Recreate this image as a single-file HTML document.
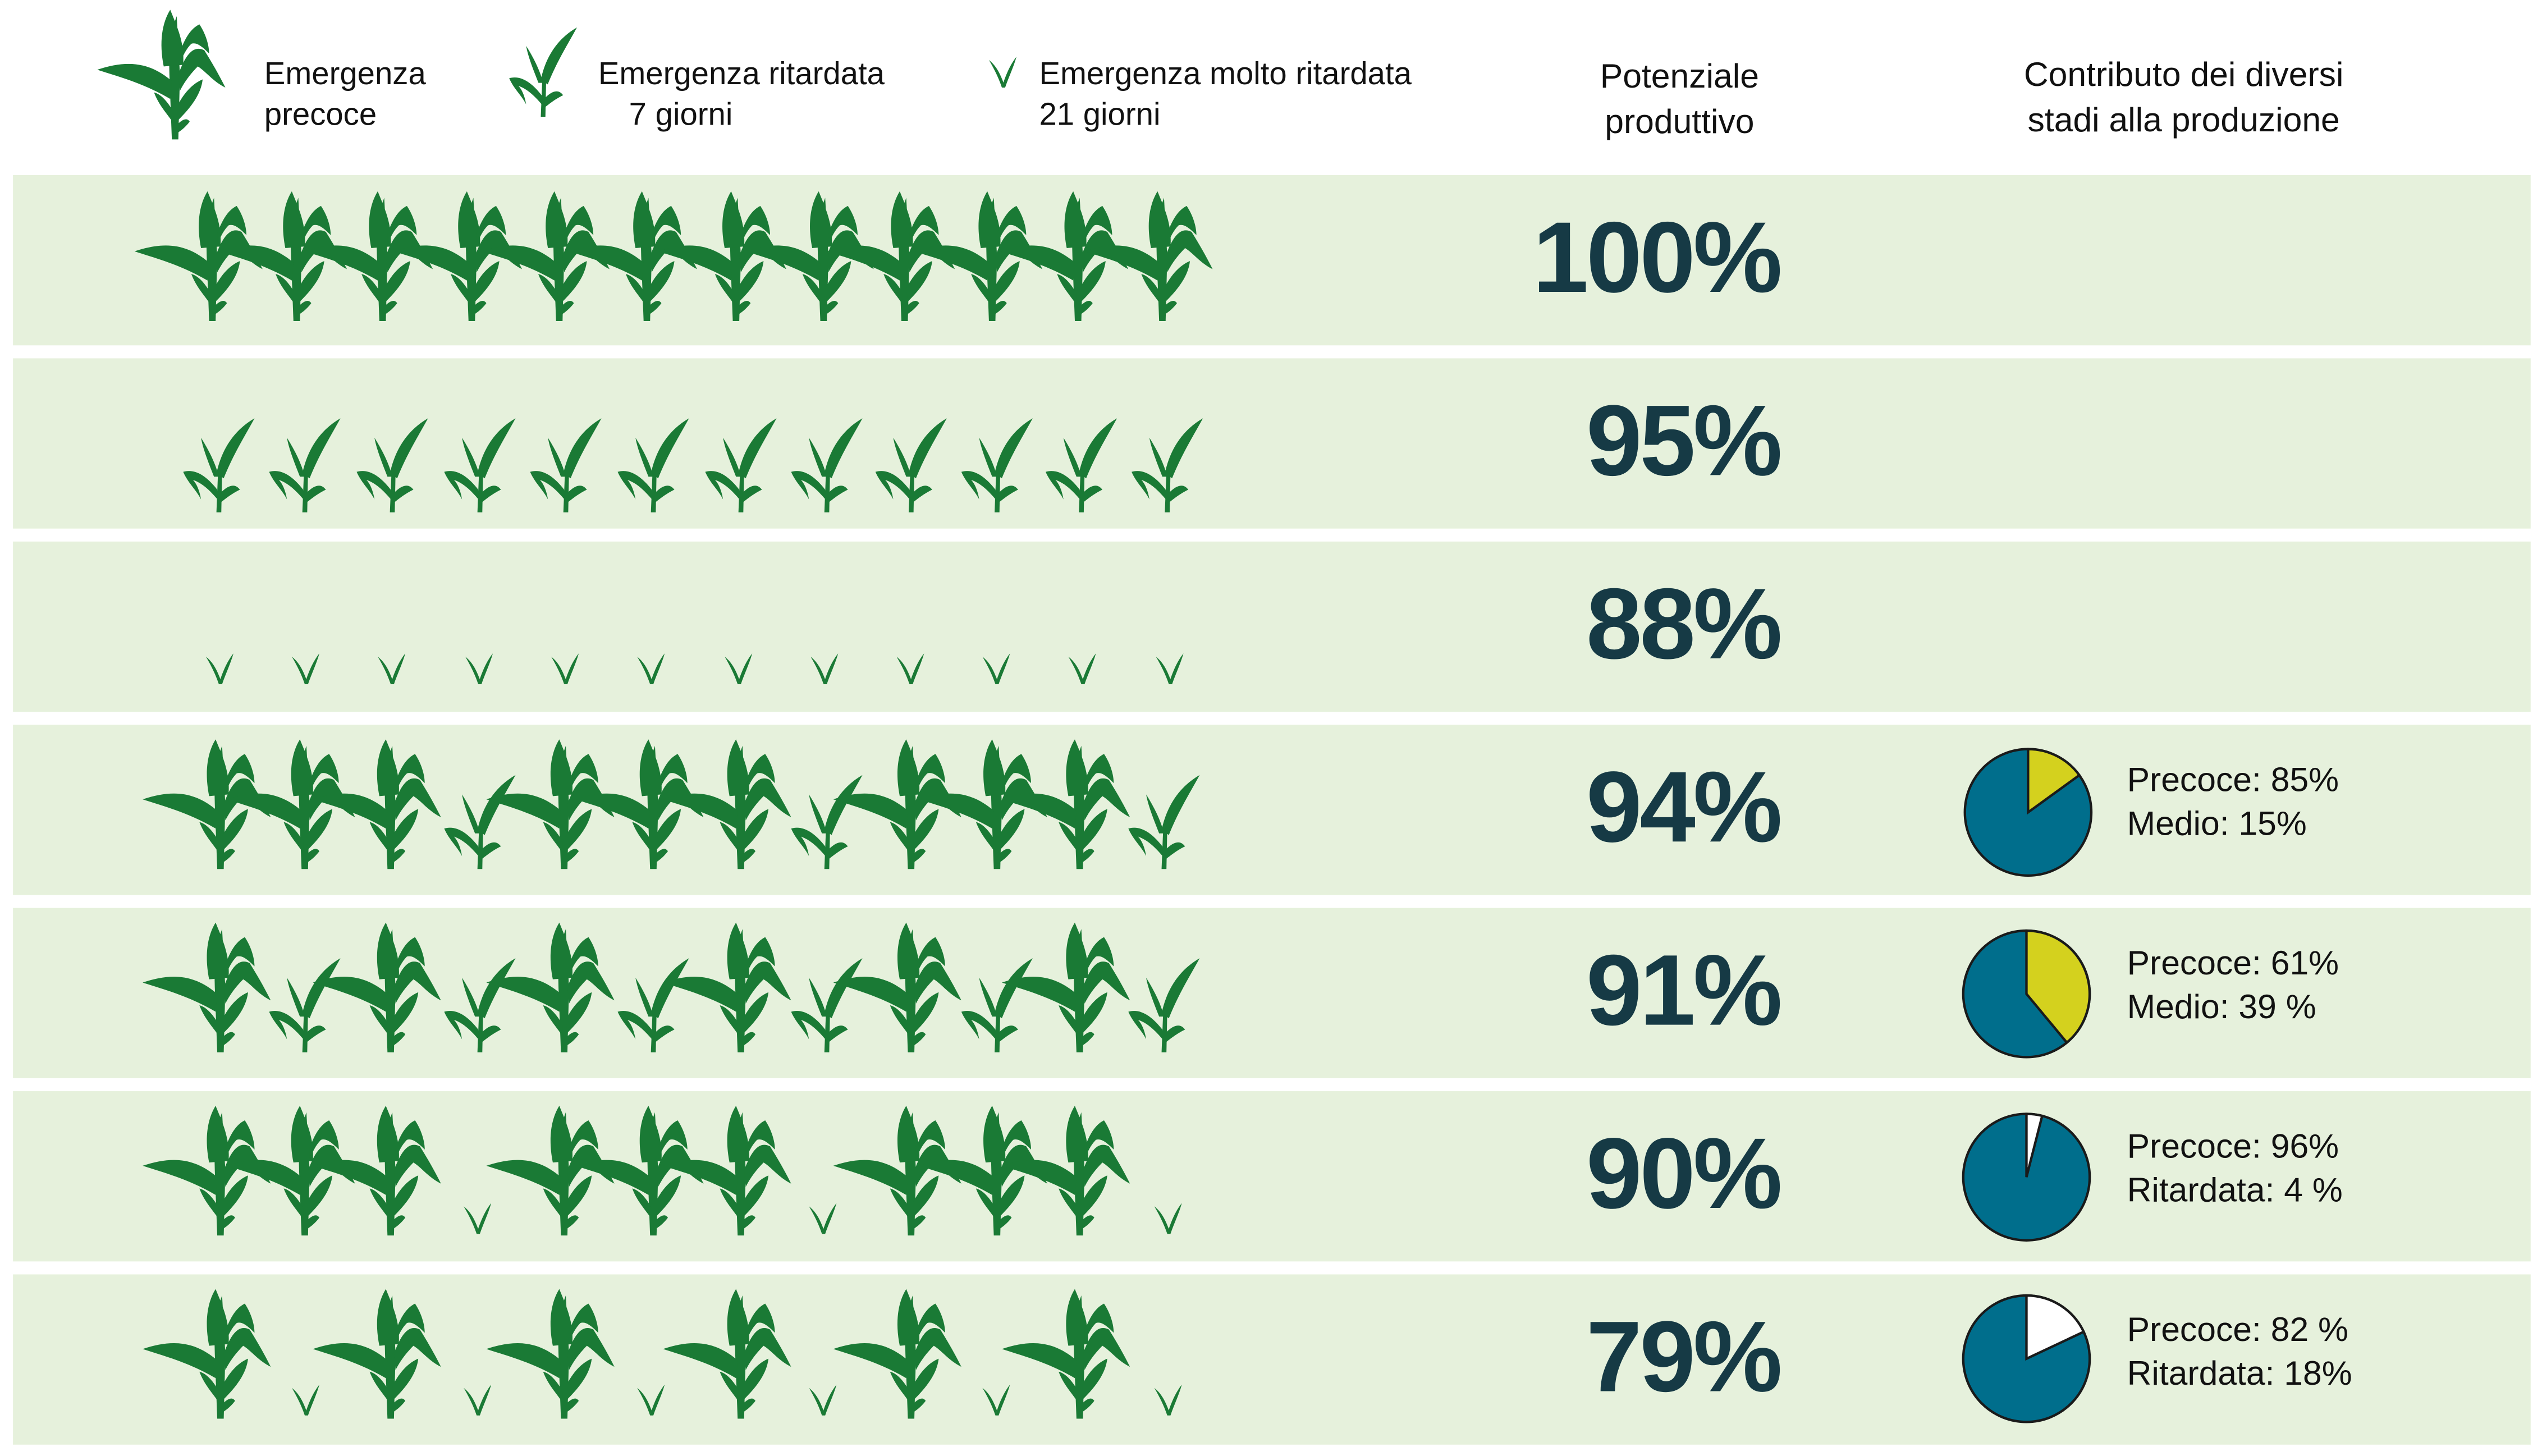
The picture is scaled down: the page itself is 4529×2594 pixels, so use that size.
<!DOCTYPE html>
<html><head><meta charset="utf-8"><style>
html,body{margin:0;padding:0;background:#fff;}
svg{display:block;}
</style></head><body>
<svg width="4529" height="2594" viewBox="0 0 1568 898" preserveAspectRatio="none" xmlns="http://www.w3.org/2000/svg">
<defs>
<g id="B" fill="#1a7a35">
<path d="M-2,0 L2,0 L3,-40 L1,-76 L-4,-62 L-3.5,-40 Z"/>
<path d="M-7,-45 C-10,-60 -8,-72 -3,-80 C1,-70 6,-60 5,-46 Z"/>
<path d="M-2,-36 C-16,-48 -30,-49 -48,-43 C-36,-39 -20,-35 -3,-25 Z"/>
<path d="M2,-40 C7,-54 12,-58 18,-55 C23,-47 27,-40 31,-32 C23,-36 19,-42 14,-45 C10,-41 6,-36 3,-30 Z"/>
<path d="M3,-54 C7,-65 11,-69 15,-71 C19,-65 21,-58 21,-53 C16,-58 13,-60 10,-59 C7,-56 5,-52 3,-47 Z"/>
<path d="M1,-20 C6,-30 12,-35 17,-37 C16,-28 10,-20 2,-12 Z"/>
<path d="M-1,-17 C-5,-24 -9,-28 -13,-29 C-10,-21 -5,-16 -1,-10 Z"/>
<path d="M0,-8 C4,-12 7,-14 9,-11 C6,-7 3,-5 0,-3 Z"/>
</g>
<g id="M" fill="#1a7a35">
<path d="M-1.5,0 L1.5,0 L2,-25 L-0.5,-25 Z"/>
<path d="M-1.5,-24 C2,-40 10,-51 22,-58 C16,-47 9,-36 3,-21 Z"/>
<path d="M-1,-14 C-8,-23 -15,-27 -22,-25 C-19,-18 -14,-14 -11,-8 C-12,-14 -14,-18 -16,-20 C-10,-18 -5,-13 0,-7 Z"/>
<path d="M1,-12 C6,-17 10,-18 13,-14 C9,-12 6,-10 1,-6 Z"/>
<path d="M-3,-22 C-7,-32 -10,-40 -11,-46 C-6,-38 -2,-30 0,-22 Z"/>
</g>
<g id="S" fill="#1a7a35">
<path d="M0,0 C-2,-6 -5,-12 -8,-17 C-3,-13 -1,-8 1,-3 Z"/>
<path d="M0,0 C2,-7 5,-14 9,-19 C7,-12 4,-6 2,0 Z"/>
</g>
</defs>
<rect width="1568" height="898" fill="#fff"/>
<g fill="#e6f1dc">
<rect x="8" y="108" width="1553" height="105"/>
<rect x="8" y="221" width="1553" height="105"/>
<rect x="8" y="334" width="1553" height="105"/>
<rect x="8" y="447" width="1553" height="105"/>
<rect x="8" y="560" width="1553" height="105"/>
<rect x="8" y="673" width="1553" height="105"/>
<rect x="8" y="786" width="1553" height="105"/>
</g>
<use href="#B" transform="translate(108,86)"/>
<use href="#M" transform="translate(335,72) scale(0.95)"/>
<use href="#S" transform="translate(618,54)"/>
<g font-family="Liberation Sans, sans-serif" font-size="19.5" fill="#111">
<text x="163" y="52">Emergenza</text><text x="163" y="77">precoce</text>
<text x="369" y="52">Emergenza ritardata</text><text x="388" y="77">7 giorni</text>
<text x="641" y="52">Emergenza molto ritardata</text><text x="641" y="77">21 giorni</text>
</g>
<g font-family="Liberation Sans, sans-serif" font-size="21" fill="#111" text-anchor="middle">
<text x="1036" y="54">Potenziale</text><text x="1036" y="82">produttivo</text>
<text x="1347" y="53">Contributo dei diversi</text><text x="1347" y="81">stadi alla produzione</text>
</g>
<g>
<use href="#B" x="131" y="198"/><use href="#B" x="183" y="198"/><use href="#B" x="236" y="198"/><use href="#B" x="291" y="198"/><use href="#B" x="345" y="198"/><use href="#B" x="399" y="198"/><use href="#B" x="454" y="198"/><use href="#B" x="508" y="198"/><use href="#B" x="558" y="198"/><use href="#B" x="612" y="198"/><use href="#B" x="665" y="198"/><use href="#B" x="717" y="198"/>
</g>
<g>
<use href="#M" x="135" y="316"/><use href="#M" x="188" y="316"/><use href="#M" x="242" y="316"/><use href="#M" x="296" y="316"/><use href="#M" x="349" y="316"/><use href="#M" x="403" y="316"/><use href="#M" x="457" y="316"/><use href="#M" x="510" y="316"/><use href="#M" x="562" y="316"/><use href="#M" x="615" y="316"/><use href="#M" x="667" y="316"/><use href="#M" x="720" y="316"/>
</g>
<g>
<use href="#S" x="135" y="422"/><use href="#S" x="188" y="422"/><use href="#S" x="241" y="422"/><use href="#S" x="295" y="422"/><use href="#S" x="348" y="422"/><use href="#S" x="401" y="422"/><use href="#S" x="455" y="422"/><use href="#S" x="508" y="422"/><use href="#S" x="561" y="422"/><use href="#S" x="614" y="422"/><use href="#S" x="667" y="422"/><use href="#S" x="721" y="422"/>
</g>
<g>
<use href="#B" x="136" y="536"/><use href="#B" x="188" y="536"/><use href="#B" x="241" y="536"/><use href="#M" x="296" y="536"/><use href="#B" x="348" y="536"/><use href="#B" x="403" y="536"/><use href="#B" x="457" y="536"/><use href="#M" x="510" y="536"/><use href="#B" x="562" y="536"/><use href="#B" x="615" y="536"/><use href="#B" x="666" y="536"/><use href="#M" x="718" y="536"/>
</g>
<g>
<use href="#B" x="136" y="649"/><use href="#M" x="188" y="649"/><use href="#B" x="241" y="649"/><use href="#M" x="296" y="649"/><use href="#B" x="348" y="649"/><use href="#M" x="403" y="649"/><use href="#B" x="457" y="649"/><use href="#M" x="510" y="649"/><use href="#B" x="562" y="649"/><use href="#M" x="615" y="649"/><use href="#B" x="666" y="649"/><use href="#M" x="718" y="649"/>
</g>
<g>
<use href="#B" x="136" y="762"/><use href="#B" x="188" y="762"/><use href="#B" x="241" y="762"/><use href="#S" x="294" y="761"/><use href="#B" x="348" y="762"/><use href="#B" x="403" y="762"/><use href="#B" x="457" y="762"/><use href="#S" x="507" y="761"/><use href="#B" x="562" y="762"/><use href="#B" x="615" y="762"/><use href="#B" x="666" y="762"/><use href="#S" x="720" y="761"/>
</g>
<g>
<use href="#B" x="136" y="875"/><use href="#S" x="188" y="873"/><use href="#B" x="241" y="875"/><use href="#S" x="294" y="873"/><use href="#B" x="348" y="875"/><use href="#S" x="401" y="873"/><use href="#B" x="457" y="875"/><use href="#S" x="507" y="873"/><use href="#B" x="562" y="875"/><use href="#S" x="614" y="873"/><use href="#B" x="666" y="875"/><use href="#S" x="720" y="873"/>
</g>
<g font-family="Liberation Sans, sans-serif" font-weight="bold" font-size="62" fill="#163a45" text-anchor="end" letter-spacing="-1.5">
<text x="1098" y="180">100%</text>
<text x="1098" y="293">95%</text>
<text x="1098" y="406">88%</text>
<text x="1098" y="519">94%</text>
<text x="1098" y="632">91%</text>
<text x="1098" y="745">90%</text>
<text x="1098" y="858">79%</text>
</g>
<g stroke="#1a1a1a" stroke-width="1.5">
<circle cx="1251" cy="501" r="39" fill="#006e8c"/>
<path d="M1251,501 L1251,462 A39,39 0 0,1 1282.6,478.1 Z" fill="#d4d11e"/>
<circle cx="1250" cy="613" r="39" fill="#006e8c"/>
<path d="M1250,613 L1250,574 A39,39 0 0,1 1274.9,643.0 Z" fill="#d4d11e"/>
<circle cx="1250" cy="726" r="39" fill="#006e8c"/>
<path d="M1250,726 L1250,687 A39,39 0 0,1 1259.7,688.2 Z" fill="#fff"/>
<circle cx="1250" cy="838" r="39" fill="#006e8c"/>
<path d="M1250,838 L1250,799 A39,39 0 0,1 1285.3,821.4 Z" fill="#fff"/>
</g>
<g font-family="Liberation Sans, sans-serif" font-size="21" fill="#111">
<text x="1312" y="488">Precoce: 85%</text><text x="1312" y="515">Medio: 15%</text>
<text x="1312" y="601">Precoce: 61%</text><text x="1312" y="628">Medio: 39 %</text>
<text x="1312" y="714">Precoce: 96%</text><text x="1312" y="741">Ritardata: 4 %</text>
<text x="1312" y="827">Precoce: 82 %</text><text x="1312" y="854">Ritardata: 18%</text>
</g>
</svg>
</body></html>
